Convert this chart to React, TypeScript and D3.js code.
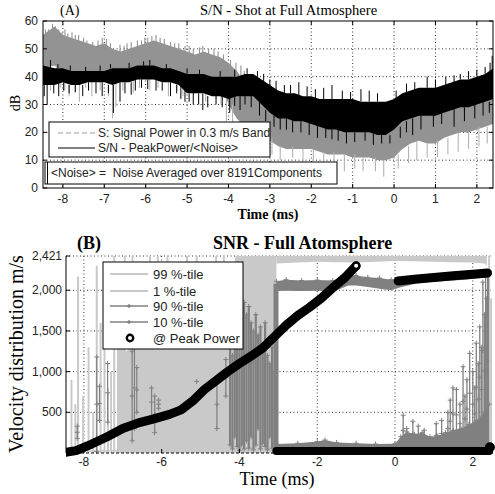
import React from "react";
import * as d3 from "d3";

const SANS = "'Liberation Sans', Arial, sans-serif";
const SERIF = "'Liberation Serif', 'Times New Roman', serif";

// ---------------- Panel A data (dB) ----------------
const aTimes = [-8.48, -8.2, -8.0, -7.8, -7.6, -7.4, -7.2, -7.0, -6.8, -6.6, -6.4, -6.2, -6.0, -5.8, -5.6, -5.4, -5.2, -5.0, -4.8, -4.6, -4.4, -4.2, -4.0, -3.8, -3.6, -3.4, -3.2, -3.0, -2.8, -2.6, -2.4, -2.2, -2.0, -1.8, -1.6, -1.4, -1.2, -1.0, -0.8, -0.6, -0.4, -0.2, 0.0, 0.2, 0.4, 0.6, 0.8, 1.0, 1.2, 1.4, 1.6, 1.8, 2.0, 2.2, 2.4];
const sigHigh = [55, 58, 55, 54, 53, 52, 51, 52, 50, 49, 50, 51, 52, 53, 52, 51, 50, 49, 48, 49, 48, 47, 45, 42, 38, 36, 33, 30, 26, 25, 25, 25, 24, 24, 23, 23, 22, 22, 22, 22, 21, 21, 22, 26, 28, 28, 28, 27, 29, 30, 30, 31, 32, 33, 34];
const sigLow = [43, 44, 42, 41, 42, 41, 41, 42, 41, 41, 42, 42, 43, 43, 42, 42, 41, 41, 40, 40, 40, 39, 30, 25, 22, 22, 21, 17, 15, 14, 14, 14, 14, 13, 12, 12, 12, 11, 11, 11, 10, 10, 11, 14, 16, 17, 16, 16, 18, 19, 20, 20, 21, 22, 23];
const snHigh = [44, 43, 43, 42, 42, 42, 42, 42, 43, 43, 43, 44, 44, 44, 43, 43, 42, 41, 41, 41, 40, 40, 40, 40, 41, 41, 39, 37, 35, 34, 34, 33, 33, 32, 32, 32, 32, 32, 31, 31, 31, 31, 32, 34, 35, 36, 36, 36, 37, 38, 39, 39, 40, 41, 43];
const snLow = [37, 37, 38, 37, 37, 38, 38, 38, 37, 38, 38, 39, 39, 39, 38, 38, 37, 34, 34, 34, 33, 33, 32, 33, 33, 33, 30, 27, 25, 25, 24, 24, 23, 22, 21, 21, 20, 20, 20, 20, 19, 19, 21, 24, 25, 26, 26, 26, 27, 28, 29, 29, 30, 31, 32];
// excursions: [time, from dB, to dB]
const sigSpikes: [number, number, number][] = [
  [-8.35, 50, 57], [-8.25, 50, 59], [-8.1, 50, 57], [-7.95, 48, 57], [-7.7, 48, 55], [-7.5, 47, 54], [-7.15, 46, 53], [-6.95, 46, 53.5], [-6.45, 45, 52], [-6.1, 46, 53], [-5.85, 47, 54.5], [-5.65, 47, 54], [-5.3, 46, 52], [-4.95, 44, 51], [-4.7, 44, 50.5], [-4.35, 43, 50], [-3.7, 36, 44], [-2.9, 24, 29], [-2.3, 20, 27], [-1.7, 18, 26], [-1.1, 17, 25], [-0.5, 16, 24], [0.3, 22, 30], [0.7, 23, 31], [1.3, 24, 32], [1.9, 26, 34], [2.3, 28, 36],
  [-8.42, 52, 57], [-8.18, 52, 58], [-8.02, 50, 56], [-7.88, 49, 55.5], [-7.78, 48, 56], [-7.62, 48, 55], [-7.42, 47, 53], [-7.28, 47, 52.5], [-7.05, 47, 54], [-6.85, 46, 52], [-6.62, 45, 51.5], [-6.52, 45, 51], [-6.35, 46, 52.5], [-6.2, 47, 53], [-6.02, 47, 54], [-5.95, 48, 54], [-5.75, 48, 55], [-5.55, 47, 53.5], [-5.4, 47, 52.5], [-5.2, 45, 52], [-5.05, 45, 51], [-4.85, 44, 50], [-4.62, 44, 51], [-4.48, 44, 50], [-4.25, 43, 49], [-4.12, 42, 48], [-3.95, 38, 46], [-3.82, 36, 45], [-3.62, 33, 42], [-3.52, 32, 40], [-3.3, 30, 37], [-3.12, 27, 34], [-2.7, 22, 28], [-2.52, 21, 28.5], [-2.12, 21, 27], [-1.92, 20, 27.5], [-1.52, 19, 25], [-1.32, 19, 26], [-0.88, 18, 25], [-0.72, 18, 24.5], [-0.28, 17, 24], [-0.08, 17, 25], [0.22, 22, 29], [0.45, 24, 31.5], [0.88, 23, 30], [1.12, 23, 29.5], [1.48, 25, 32], [1.72, 26, 33], [2.12, 28, 35], [2.38, 29, 37],
  [-8.3, 44, 35], [-8.05, 43, 36], [-7.85, 42, 33], [-7.6, 42, 31], [-7.3, 41, 33], [-6.8, 41, 25], [-6.72, 41, 29], [-6.3, 42, 34], [-5.9, 43, 35], [-5.45, 42, 33], [-5.1, 41, 33], [-4.55, 40, 31], [-4.05, 38, 24], [-3.9, 30, 21], [-3.45, 24, 18], [-2.95, 18, 12], [-2.45, 15, 11], [-1.95, 14, 10], [-1.45, 13, 8], [-0.95, 12, 7], [-0.45, 11, 6], [0.1, 12, 7], [0.55, 17, 10], [1.05, 17, 11], [1.55, 20, 13], [2.05, 22, 15],
  [-8.4, 44, 37], [-8.15, 44, 38], [-7.95, 43, 35], [-7.7, 42, 34], [-7.45, 42, 36], [-7.1, 42, 35], [-6.9, 41, 33], [-6.55, 42, 35], [-6.15, 42, 36], [-5.7, 43, 36], [-5.25, 42, 35], [-4.8, 40, 34], [-4.3, 39, 32], [-4.18, 38, 30], [-3.75, 24, 19], [-3.6, 23, 17], [-3.2, 21, 15], [-2.75, 15, 10], [-2.2, 14, 9], [-1.7, 13, 9], [-1.2, 12, 6], [-0.75, 11, 6], [-0.25, 10, 4], [0.35, 15, 9], [0.8, 16, 11], [1.3, 18, 12], [1.8, 20, 14], [2.25, 22, 16],
];
const snSpikes: [number, number, number][] = [
  [-8.38, 38, 30], [-8.1, 38, 33], [-7.85, 37, 34], [-7.52, 37, 33], [-7.2, 38, 34], [-6.78, 37, 27], [-6.62, 38, 31], [-6.25, 39, 35], [-5.75, 39, 35], [-5.4, 38, 33], [-5.05, 37, 31], [-4.85, 35, 30], [-4.62, 34, 28], [-4.3, 33, 30], [-3.97, 33, 27], [-3.72, 33, 28], [-3.25, 31, 26], [-2.75, 26, 21], [-2.45, 25, 20], [-2.05, 24, 19], [-1.85, 23, 18], [-1.35, 22, 17], [-1.15, 21, 16], [-0.7, 21, 17], [-0.3, 20, 16], [0.15, 22, 18], [0.45, 25, 19], [0.95, 27, 22], [1.45, 29, 22], [1.95, 30, 25], [2.15, 31, 26],
  [-8.45, 37, 33], [-8.22, 37, 34], [-7.98, 38, 35], [-7.7, 37, 34.5], [-7.38, 38, 35], [-7.05, 38, 33], [-6.9, 37, 34], [-6.5, 38, 34], [-6.35, 38, 33.5], [-6.1, 39, 36], [-5.95, 39, 35.5], [-5.6, 38, 35], [-5.25, 37, 34], [-5.15, 37, 32], [-4.95, 34, 31], [-4.72, 34, 30], [-4.5, 33, 29], [-4.15, 33, 29], [-3.85, 33, 29.5], [-3.6, 33, 30], [-3.45, 33, 29], [-3.1, 28, 24], [-2.9, 26, 22], [-2.6, 25, 21], [-2.25, 24, 20], [-1.65, 22, 18], [-1.5, 21, 17.5], [-0.95, 20, 16.5], [-0.5, 20, 15.5], [-0.1, 19, 16], [0.3, 24, 20], [0.65, 26, 21], [1.15, 27, 23], [1.7, 29, 24], [2.3, 31, 27],
  [-8.3, 43, 46], [-7.1, 42, 44], [-6.05, 44, 45.5], [-3.55, 41, 43], [-3.0, 36, 39], [-2.65, 34, 37], [-2.3, 33, 38], [-1.9, 32, 35.5], [-1.5, 32, 37], [-1.05, 31, 34.5], [-0.6, 31, 35], [0.3, 34, 37.5], [0.8, 36, 40], [1.25, 37, 40], [1.6, 39, 41], [2.0, 40, 42.5], [2.32, 41, 45], [2.37, 42, 47.5],
  [-8.12, 43, 44.5], [-7.82, 42, 44], [-7.45, 42, 43.5], [-6.85, 43, 44.5], [-6.4, 43, 45], [-5.9, 44, 46], [-5.5, 43, 44.5], [-5.0, 41, 43], [-4.7, 41, 42.5], [-4.2, 40, 42], [-3.85, 40, 42.5], [-3.3, 40, 42], [-3.15, 38, 41], [-2.85, 35, 38.5], [-2.5, 34, 37], [-2.1, 33, 36.5], [-1.7, 32, 36], [-1.25, 32, 35], [-0.8, 31, 35.5], [-0.4, 31, 34], [0.05, 32, 35], [0.5, 35, 38], [1.0, 36, 39], [1.45, 38, 40.5], [1.8, 39, 42], [2.2, 41, 43.5],
];
const aXTicks = [-8, -7, -6, -5, -4, -3, -2, -1, 0, 1, 2];
const aYTicks = [0, 10, 20, 30, 40, 50, 60];

// ---------------- Panel B data (m/s) ----------------
const bXTicks = [-8, -6, -4, -2, 0, 2];
const bYTicks = [500, 1000, 1500, 2000, 2421];
const bYTickLabels = ["500", "1,000", "1,500", "2,000", "2,421"];

// 99 %-tile: isolated columns [time, top], filled region, top band
const p99Cols: [number, number][] = [
  [-8.32, 900], [-8.22, 600], [-8.15, 2170], [-8.02, 700], [-7.88, 1300], [-7.76, 500], [-7.67, 2300], [-7.57, 1600], [-7.47, 1900], [-7.38, 800], [-7.3, 1000], [-7.22, 2421], [-7.12, 1400], [-6.95, 2421], [-6.75, 2421], [-6.55, 2000], [-6.3, 2421], [-6.1, 2421], [-5.85, 2421], [-5.6, 2200], [-5.35, 2421], [-5.1, 2421], [-4.85, 2300], [-4.6, 2421], [-4.4, 2421], [2.42, 2421], [2.47, 1900],
];
const p99FillT = [-7.15, -6.9, -6.7, -6.5, -6.3, -6.1, -5.9, -5.7, -5.5, -5.3, -5.1, -4.9, -4.7, -4.5, -4.3, -4.2, -4.1, -3.1, -3.05];
const p99FillTop = [1350, 1250, 1400, 1300, 1350, 1280, 1320, 1300, 1350, 1300, 1400, 1350, 1380, 1400, 1600, 2100, 2421, 2421, 2421];
const p99TopT = [-3.05, -2.5, -2.0, -1.5, -1.0, -0.5, 0.0, 0.5, 1.0, 1.5, 2.0, 2.3, 2.36];
const p99TopLow = [2330, 2340, 2350, 2345, 2340, 2350, 2360, 2355, 2350, 2345, 2340, 2330, 2300];
// 1 %-tile
const p1T = [-8.46, -6, -4, -3.05, 0, 2.5];
const p1V = [20, 30, 25, 15, 15, 20];
// 90 %-tile
const p90Dense: [number, number, number][] = [
  [-4.24, 100, 1500], [-4.18, 50, 1200], [-4.12, 200, 1650], [-4.06, 80, 1400], [-4.0, 30, 1750], [-3.94, 100, 1880], [-3.88, 50, 1850], [-3.82, 150, 1700], [-3.76, 60, 1800], [-3.7, 200, 1600], [-3.64, 40, 1500], [-3.58, 100, 1700], [-3.52, 300, 1450], [-3.46, 50, 1550], [-3.4, 120, 1300], [-3.34, 80, 1600], [-3.28, 40, 1200], [-3.22, 200, 1100], [-3.16, 60, 1300], [-3.1, 30, 1000],
];
const p90Spikes: [number, number, number][] = [
  [-8.17, 180, 330], [-7.67, 20, 1180], [-7.6, 400, 820], [-7.39, 380, 1100], [-6.76, 150, 1250], [-6.7, 300, 1300], [-6.64, 500, 1050], [-6.26, 450, 800], [-6.18, 250, 700], [-6.08, 550, 650], [-5.1, 880, 880], [-4.58, 300, 900], [-4.35, 700, 1150],
];
const p90Rise: [number, number, number] = [-3.06, 40, 2080];
const p90PlateauT = [-3.05, -2.8, -2.4, -2.0, -1.6, -1.4, -1.2, -1.0, -0.7, -0.4, -0.1, 0.1, 0.6, 1.2, 1.8, 2.38];
const p90PlateauHi = [2110, 2130, 2120, 2125, 2120, 2150, 2190, 2180, 2160, 2150, 2130, 2140, 2160, 2180, 2200, 2230];
const p90PlateauLo = [1990, 1995, 1990, 1995, 1990, 2020, 2060, 2060, 2040, 2020, 2000, 2030, 2090, 2110, 2130, 2160];
const p90Drop: [number, number, number] = [2.39, 0, 2210];
// 10 %-tile
const p10BandT = [-3.05, -2.5, -2.0, -1.8, -1.5, -1.0, -0.5, 0.0, 0.15, 0.3, 0.5, 0.7, 0.9, 1.1, 1.3, 1.5, 1.7, 1.9, 2.1, 2.3, 2.42];
const p10BandTop = [110, 120, 140, 160, 130, 120, 110, 115, 200, 260, 230, 250, 200, 210, 250, 280, 300, 350, 400, 500, 600];
const p10Spikes: [number, number][] = [
  [0.21, 465], [0.3, 300], [0.46, 390], [0.6, 330], [0.75, 280], [1.06, 360], [1.2, 400], [1.36, 500], [1.42, 650], [1.49, 800], [1.58, 780], [1.67, 600], [1.75, 1060], [1.8, 700], [1.85, 900], [1.92, 1225], [2.0, 1000], [2.05, 800], [2.09, 1350], [2.14, 1100], [2.18, 1550], [2.22, 1300], [2.26, 2100], [2.3, 1700], [2.33, 2165], [2.36, 1900],
];
// @ Peak Power
const peakRiseT = [-8.44, -8.2, -7.8, -7.4, -7.0, -6.6, -6.2, -5.8, -5.5, -5.2, -4.9, -4.6, -4.3, -4.0, -3.7, -3.4, -3.1, -2.8, -2.5, -2.2, -1.9, -1.6, -1.3, -1.0];
const peakRiseV = [10, 30, 110, 200, 300, 370, 420, 475, 530, 640, 780, 890, 1000, 1100, 1190, 1290, 1430, 1570, 1690, 1790, 1900, 2030, 2150, 2300];
const peakFlatT = [-3.05, -2.0, -1.0, 0.0, 1.0, 2.0, 2.42];
const peakFlatV = [25, 25, 25, 25, 25, 25, 25];
const peakUpperT = [0.08, 0.5, 1.0, 1.5, 2.0, 2.38];
const peakUpperV = [2115, 2135, 2158, 2178, 2198, 2212];
const peakBlob: [number, number] = [2.44, 70];

// ---------------- scales ----------------
const xA = d3.scaleLinear().domain([-8.48, 2.39]).range([43, 493]);
const yA = d3.scaleLinear().domain([0, 60]).range([188, 21]);
const xB = d3.scaleLinear().domain([-8.46, 2.52]).range([66, 493]);
const yB = d3.scaleLinear().domain([0, 2421]).range([453, 256]);

const GRID = { stroke: "#000", strokeWidth: 0.8, strokeDasharray: "1,2.5" };
const LIGHT = "#c9c9c9";
const DARK = "#808080";

function bandPath(ts: number[], hi: number[], lo: number[], xs: any, ys: any) {
  return d3
    .area<number>()
    .x((_, i) => xs(ts[i]))
    .y0((_, i) => ys(lo[i]))
    .y1((_, i) => ys(hi[i]))(ts) as string;
}
function linePath(ts: number[], vs: number[], xs: any, ys: any) {
  return d3
    .line<number>()
    .x((_, i) => xs(ts[i]))
    .y((_, i) => ys(vs[i]))(ts) as string;
}
function plus(x: number, y: number, s = 2.5) {
  return `M${x - s},${y}H${x + s}M${x},${y - s}V${y + s}`;
}

export default function App() {
  const p90Markers: string[] = [];
  p90Spikes.forEach(([t, lo, hi]) => {
    if (hi - lo < 30) p90Markers.push(plus(xB(t), yB(hi)));
    else p90Markers.push(plus(xB(t), yB(lo)), plus(xB(t), yB(hi)), plus(xB(t), yB((lo + hi) / 2)));
  });
  p90Dense.forEach(([t, lo, hi]) => {
    p90Markers.push(plus(xB(t), yB(hi)), plus(xB(t), yB(lo)));
  });
  p90PlateauT.forEach((t, i) => p90Markers.push(plus(xB(t), yB(p90PlateauHi[i]))));
  const p10Markers: string[] = [];
  p10Spikes.forEach(([t, v]) => p10Markers.push(plus(xB(t), yB(v)), plus(xB(t), yB(v * 0.6))));
  p10BandT.forEach((t, i) => p10Markers.push(plus(xB(t), yB(p10BandTop[i]))));

  return (
    <svg width={495} height={494} style={{ position: "absolute", left: 0, top: 0, background: "#fff" }}>
      <defs>
        <clipPath id="clipA">
          <rect x={43} y={21} width={450} height={167} />
        </clipPath>
        <clipPath id="clipB">
          <rect x={66} y={250} width={429} height={210} />
        </clipPath>
      </defs>
      <rect x={0} y={0} width={495} height={494} fill="#fff" />

      {/* ================= Panel A ================= */}
      <g>
        {aXTicks.map((t) => (
          <line key={"agx" + t} x1={xA(t)} x2={xA(t)} y1={21} y2={188} {...GRID} />
        ))}
        {aYTicks.slice(1, -1).map((v) => (
          <line key={"agy" + v} x1={43} x2={493} y1={yA(v)} y2={yA(v)} {...GRID} />
        ))}
        <g clipPath="url(#clipA)">
          <path d={bandPath(aTimes, sigHigh, sigLow, xA, yA)} fill="#939393" />
          {sigSpikes.map(([t, a, b], i) => (
            <line key={"ss" + i} x1={xA(t)} x2={xA(t)} y1={yA(a)} y2={yA(b)} stroke={b < a ? "#b3b3b3" : "#939393"} strokeWidth={1.1} />
          ))}
          <path d={bandPath(aTimes, snHigh, snLow, xA, yA)} fill="#000" />
          {snSpikes.map(([t, a, b], i) => (
            <line key={"sn" + i} x1={xA(t)} x2={xA(t)} y1={yA(a)} y2={yA(b)} stroke="#000" strokeWidth={1} />
          ))}
        </g>
        <rect x={43} y={21} width={450} height={167} fill="none" stroke="#000" strokeWidth={1} />
        {aXTicks.map((t) => (
          <g key={"axt" + t}>
            <line x1={xA(t)} x2={xA(t)} y1={188} y2={184} stroke="#000" />
            <line x1={xA(t)} x2={xA(t)} y1={21} y2={25} stroke="#000" />
            <text x={xA(t)} y={203} textAnchor="middle" fontFamily={SANS} fontSize={12} fill="#222">
              {t}
            </text>
          </g>
        ))}
        {aYTicks.map((v) => (
          <g key={"ayt" + v}>
            <line x1={43} x2={47} y1={yA(v)} y2={yA(v)} stroke="#000" />
            <line x1={493} x2={489} y1={yA(v)} y2={yA(v)} stroke="#000" />
            <text x={38} y={yA(v) + 4} textAnchor="end" fontFamily={SANS} fontSize={12} fill="#222">
              {v}
            </text>
          </g>
        ))}
        <text x={60} y={15} fontFamily={SERIF} fontSize={14}>(A)</text>
        <text x={200} y={15} fontFamily={SERIF} fontSize={14.6}>S/N - Shot at Full Atmosphere</text>
        <text x={268} y={219} textAnchor="middle" fontFamily={SERIF} fontSize={14} fontWeight="bold">Time (ms)</text>
        <text transform="translate(20,103) rotate(-90)" textAnchor="middle" fontFamily={SERIF} fontSize={14}>dB</text>

        {/* legend A */}
        <rect x={49} y={122} width={221} height={35} fill="#fff" stroke="#000" />
        <line x1={58} x2={95} y1={133} y2={133} stroke="#a0a0a0" strokeWidth={1.2} strokeDasharray="5,3" />
        <text x={98} y={137} fontFamily={SANS} fontSize={12} fill="#222">S: Signal Power in 0.3 m/s Band</text>
        <line x1={58} x2={95} y1={148} y2={148} stroke="#000" strokeWidth={1.2} />
        <text x={98} y={152} fontFamily={SANS} fontSize={12} fill="#222">{"S/N - PeakPower/<Noise>"}</text>
        <rect x={45} y={162} width={292} height={22} fill="#fff" stroke="#000" />
        <line x1={47.5} x2={47.5} y1={162} y2={184} stroke="#000" />
        <text x={51} y={177} fontFamily={SANS} fontSize={12} fill="#222" style={{ whiteSpace: "pre" }}>
          {"<Noise> =  Noise Averaged over 8191Components"}
        </text>
      </g>

      {/* ================= Panel B ================= */}
      <g>
        {bXTicks.map((t) => (
          <line key={"bgx" + t} x1={xB(t)} x2={xB(t)} y1={256} y2={453} {...GRID} />
        ))}
        {bYTicks.map((v) => (
          <line key={"bgy" + v} x1={66} x2={493} y1={yB(v)} y2={yB(v)} {...GRID} />
        ))}
        <g clipPath="url(#clipB)">
          {/* 1 %-tile */}
          <path d={linePath(p1T, p1V, xB, yB)} fill="none" stroke={LIGHT} strokeWidth={1.5} />
          {/* 99 %-tile */}
          <path d={bandPath(p99FillT, p99FillTop, p99FillT.map(() => 0), xB, yB)} fill={LIGHT} />
          {p99Cols.map(([t, v], i) => (
            <line key={"c99" + i} x1={xB(t)} x2={xB(t)} y1={yB(0)} y2={yB(v)} stroke={LIGHT} strokeWidth={2} />
          ))}
          <path d={bandPath(p99TopT, p99TopT.map(() => 2421), p99TopLow, xB, yB)} fill={LIGHT} />
          {/* 90 %-tile */}
          {p90Dense.map(([t, lo, hi], i) => (
            <line key={"d90" + i} x1={xB(t)} x2={xB(t)} y1={yB(lo)} y2={yB(hi)} stroke={DARK} strokeWidth={2.2} />
          ))}
          {p90Spikes.map(([t, lo, hi], i) => (
            <line key={"s90" + i} x1={xB(t)} x2={xB(t)} y1={yB(lo)} y2={yB(hi)} stroke={DARK} strokeWidth={1.2} />
          ))}
          <line x1={xB(p90Rise[0])} x2={xB(p90Rise[0])} y1={yB(p90Rise[1])} y2={yB(p90Rise[2])} stroke={DARK} strokeWidth={5} />
          <path d={bandPath(p90PlateauT, p90PlateauHi, p90PlateauLo, xB, yB)} fill={DARK} />
          <line x1={xB(p90Drop[0])} x2={xB(p90Drop[0])} y1={yB(p90Drop[1])} y2={yB(p90Drop[2])} stroke={DARK} strokeWidth={2} />
          <path d={p90Markers.join("")} stroke={DARK} strokeWidth={1} fill="none" />
          {/* 10 %-tile */}
          <path d={bandPath(p10BandT, p10BandTop, p10BandT.map(() => 0), xB, yB)} fill={DARK} />
          {p10Spikes.map(([t, v], i) => (
            <line key={"s10" + i} x1={xB(t)} x2={xB(t)} y1={yB(0)} y2={yB(v)} stroke={DARK} strokeWidth={1.3} />
          ))}
          <path d={p10Markers.join("")} stroke={DARK} strokeWidth={1} fill="none" />
          {/* @ Peak Power */}
          <path d={linePath(peakFlatT, peakFlatV, xB, yB)} fill="none" stroke="#000" strokeWidth={8} strokeLinecap="round" />
          <path d={linePath(peakRiseT, peakRiseV, xB, yB)} fill="none" stroke="#000" strokeWidth={9} strokeLinecap="round" strokeLinejoin="round" />
          <path d={linePath(peakUpperT, peakUpperV, xB, yB)} fill="none" stroke="#000" strokeWidth={9} strokeLinecap="round" strokeLinejoin="round" />
          <circle cx={xB(peakBlob[0])} cy={yB(peakBlob[1])} r={5} fill="#000" />
          <circle cx={xB(peakRiseT[peakRiseT.length - 1])} cy={yB(peakRiseV[peakRiseV.length - 1])} r={3.2} fill="#fff" stroke="#000" strokeWidth={2.4} />
        </g>
        <line x1={66} x2={66} y1={256} y2={453} stroke="#000" strokeWidth={1} />
        <line x1={66} x2={493} y1={453} y2={453} stroke="#000" strokeWidth={1} strokeDasharray="3,2" />
        {bXTicks.map((t) => (
          <g key={"bxt" + t}>
            <line x1={xB(t)} x2={xB(t)} y1={453} y2={449} stroke="#000" />
            <text x={xB(t)} y={466} textAnchor="middle" fontFamily={SANS} fontSize={12} fill="#222">
              {t}
            </text>
          </g>
        ))}
        {bYTicks.map((v, i) => (
          <g key={"byt" + v}>
            <line x1={66} x2={70} y1={yB(v)} y2={yB(v)} stroke="#000" />
            <text x={62} y={yB(v) + 4} textAnchor="end" fontFamily={SANS} fontSize={12} fill="#222">
              {bYTickLabels[i]}
            </text>
          </g>
        ))}
        <text x={77} y={249} fontFamily={SERIF} fontSize={18} fontWeight="bold">(B)</text>
        <text x={213} y={249} fontFamily={SERIF} fontSize={18} fontWeight="bold">SNR - Full Atomsphere</text>
        <text x={277} y={485} textAnchor="middle" fontFamily={SERIF} fontSize={18}>Time (ms)</text>
        <text transform="translate(23,354) rotate(-90)" textAnchor="middle" fontFamily={SERIF} fontSize={20}>Velocity distribution m/s</text>

        {/* legend B */}
        <rect x={103} y={262} width={140} height={87} fill="#fff" stroke="#000" />
        <line x1={110} x2={148} y1={274} y2={274} stroke={LIGHT} strokeWidth={2} />
        <text x={153} y={278.5} fontFamily={SANS} fontSize={13} fill="#222">99 %-tile</text>
        <line x1={110} x2={148} y1={291} y2={291} stroke={LIGHT} strokeWidth={2} />
        <text x={153} y={295.5} fontFamily={SANS} fontSize={13} fill="#222">1 %-tile</text>
        <line x1={110} x2={148} y1={306} y2={306} stroke={DARK} strokeWidth={1.3} />
        <path d={plus(129, 306, 2)} stroke={DARK} strokeWidth={1.3} />
        <text x={153} y={310.5} fontFamily={SANS} fontSize={13} fill="#222">90 %-tile</text>
        <line x1={110} x2={148} y1={322} y2={322} stroke={DARK} strokeWidth={1.3} />
        <path d={plus(129, 322, 2)} stroke={DARK} strokeWidth={1.3} />
        <text x={153} y={326.5} fontFamily={SANS} fontSize={13} fill="#222">10 %-tile</text>
        <circle cx={130} cy={338} r={3.2} fill="#fff" stroke="#000" strokeWidth={2.4} />
        <text x={153} y={342.5} fontFamily={SANS} fontSize={13} fill="#222">@ Peak Power</text>
      </g>
    </svg>
  );
}
